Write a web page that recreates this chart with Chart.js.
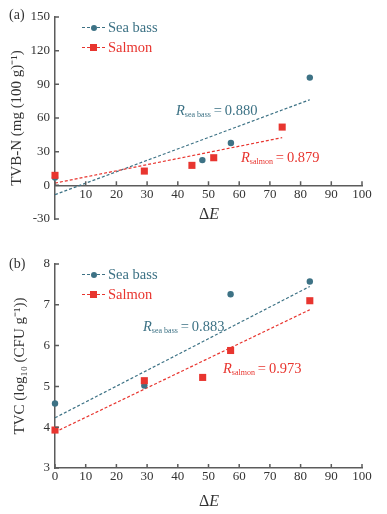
<!DOCTYPE html>
<html>
<head>
<meta charset="utf-8">
<script src="https://cdn.jsdelivr.net/npm/chart.js@4"></script>
<style>
  body { margin: 0; background: #fff; font-family: 'Liberation Serif', serif; }
  #wrap { position: relative; width: 387px; height: 514px; }
  canvas { position: absolute; left: 0; }
  .lbl { position: absolute; font-size: 14.5px; white-space: nowrap; line-height: 1; }
  .lbl sub { font-size: 8px; vertical-align: -2px; }
  .panel { position: absolute; font-size: 14px; color: #333; }
  .dx { position: absolute; font-size: 16px; color: #333; }
  .leg { position: absolute; left: 82px; height: 14px; font-size: 14.5px; }
  .leg .dash { position: absolute; left: 0; top: 7px; width: 23px; border-top: 1.3px dashed; }
  .leg .mk { position: absolute; left: 8px; top: 4px; width: 7px; height: 7px; }
  .leg .txt { position: absolute; left: 26px; top: -1px; white-space: nowrap; }
</style>
</head>
<body>
<div id="wrap">
  <canvas id="tvbn" width="387" height="250" style="top:0"></canvas>
  <canvas id="tvc" width="387" height="264" style="top:250px"></canvas>

  <div class="panel" style="left:9px;top:7px">(a)</div>
  <div class="panel" style="left:9px;top:256px">(b)</div>

  <div class="leg" style="top:20px;color:#3d7285">
    <span class="dash" style="border-color:#3d7285"></span>
    <span class="mk" style="background:#3d7285;border-radius:50%;left:8.5px;top:4.5px;width:6px;height:6px"></span>
    <span class="txt">Sea bass</span>
  </div>
  <div class="leg" style="top:40px;color:#e8352f">
    <span class="dash" style="border-color:#e8352f"></span>
    <span class="mk" style="background:#e8352f"></span>
    <span class="txt">Salmon</span>
  </div>
  <div class="leg" style="top:267px;color:#3d7285">
    <span class="dash" style="border-color:#3d7285"></span>
    <span class="mk" style="background:#3d7285;border-radius:50%;left:8.5px;top:4.5px;width:6px;height:6px"></span>
    <span class="txt">Sea bass</span>
  </div>
  <div class="leg" style="top:287px;color:#e8352f">
    <span class="dash" style="border-color:#e8352f"></span>
    <span class="mk" style="background:#e8352f"></span>
    <span class="txt">Salmon</span>
  </div>

  <div class="lbl" style="left:176px;top:103px;color:#3d7285"><i>R</i><sub>sea bass</sub>&#8201;=&#8201;0.880</div>
  <div class="lbl" style="left:241px;top:150px;color:#e8352f"><i>R</i><sub>salmon</sub>&#8201;=&#8201;0.879</div>
  <div class="lbl" style="left:143px;top:319px;color:#3d7285"><i>R</i><sub>sea bass</sub>&#8201;=&#8201;0.883</div>
  <div class="lbl" style="left:223px;top:361px;color:#e8352f"><i>R</i><sub>salmon</sub>&#8201;=&#8201;0.973</div>

  <div class="dx" style="left:199px;top:205px">Δ<i>E</i></div>
  <div class="dx" style="left:199px;top:492px">Δ<i>E</i></div>
</div>

<script>
// (a) TVB-N vs ΔE
const seaBassTvbnX = [0, 48, 57.3, 83];
const seaBassTvbnY = [7, 22.5, 37.7, 96];
const salmonTvbnX = [0, 29.1, 44.6, 51.7, 74];
const salmonTvbnY = [8.9, 12.7, 17.8, 24.6, 51.9];
const seaBassTvbnFitX = [0, 83];
const seaBassTvbnFitY = [-8.3, 76.3];
const salmonTvbnFitX = [0, 74];
const salmonTvbnFitY = [2, 42.5];
const tvbnTicks = [-30, 0, 30, 60, 90, 120, 150];

// (b) TVC vs ΔE
const seaBassTvcX = [0, 29.1, 57.2, 83];
const seaBassTvcY = [4.58, 5.02, 7.26, 7.57];
const salmonTvcX = [0, 29.1, 48.1, 57.2, 83];
const salmonTvcY = [3.93, 5.14, 5.22, 5.88, 7.10];
const seaBassTvcFitX = [0, 83];
const seaBassTvcFitY = [4.23, 7.45];
const salmonTvcFitX = [0, 83];
const salmonTvcFitY = [3.88, 6.88];
const tvcTicks = [3, 4, 5, 6, 7, 8];

const deltaETicks = [0, 10, 20, 30, 40, 50, 60, 70, 80, 90, 100];

const teal = '#3d7285';
const red = '#e8352f';
const axisColor = '#5c5c5c';
const serif = "'Liberation Serif', serif";

function pts(xs, ys) {
    return xs.map((x, i) => ({ x: x, y: ys[i] }));
}

// tick marks pointing into the plot
const innerTicks = {
    id: 'innerTicks',
    afterDraw(chart, args, opts) {
        const ctx = chart.ctx;
        const xs = chart.scales.x, ys = chart.scales.y;
        const left = chart.chartArea.left;
        const base = opts.atZero ? ys.getPixelForValue(0) : chart.chartArea.bottom;
        ctx.save();
        ctx.strokeStyle = axisColor;
        ctx.lineWidth = 1.5;
        ctx.beginPath();
        ys.ticks.forEach(t => {
            const py = ys.getPixelForValue(t.value);
            ctx.moveTo(left, py);
            ctx.lineTo(left + 4, py);
        });
        xs.ticks.forEach(t => {
            const px = xs.getPixelForValue(t.value);
            ctx.moveTo(px, base);
            ctx.lineTo(px, base - 4);
        });
        ctx.stroke();
        ctx.restore();
    }
};

function makeChart(id, d, yTicks, yTitle, titlePad, pad, atZero) {
    const ctx = document.getElementById(id).getContext('2d');
    return new Chart(ctx, {
        type: 'scatter',
        data: {
            datasets: [
                { data: pts(d.salX, d.salY), pointStyle: 'rect', pointRadius: 5, backgroundColor: red, borderColor: red, borderWidth: 0, order: 0, clip: false },
                { data: pts(d.sbX, d.sbY), pointStyle: 'circle', pointRadius: 3.2, backgroundColor: teal, borderColor: teal, borderWidth: 0, order: 1, clip: false },
                { type: 'line', data: pts(d.salFitX, d.salFitY), borderColor: red, borderWidth: 1.2, borderDash: [3, 2], pointRadius: 0, fill: false, order: 2, clip: false },
                { type: 'line', data: pts(d.sbFitX, d.sbFitY), borderColor: teal, borderWidth: 1.2, borderDash: [3, 2], pointRadius: 0, fill: false, order: 3, clip: false }
            ]
        },
        options: {
            responsive: false,
            animation: false,
            devicePixelRatio: 1,
            layout: { padding: pad },
            plugins: {
                legend: { display: false },
                tooltip: { enabled: false },
                innerTicks: { atZero: atZero }
            },
            scales: {
                x: {
                    type: 'linear',
                    position: atZero ? { y: 0 } : 'bottom',
                    min: 0,
                    max: 100,
                    afterBuildTicks: s => { s.ticks = deltaETicks.map(v => ({ value: v })); },
                    afterFit: s => { s.height = atZero ? 0 : 20; },
                    grid: { display: false, drawTicks: false },
                    border: { display: true, color: axisColor, width: 1.5 },
                    ticks: {
                        color: '#333', font: { family: serif, size: 13 }, padding: 1, maxRotation: 0,
                        // panel (a) has no 0 label on the ΔE axis
                        callback: v => (atZero && v === 0) ? '' : String(v)
                    }
                },
                y: {
                    type: 'linear',
                    position: 'left',
                    min: yTicks[0],
                    max: yTicks[yTicks.length - 1],
                    afterBuildTicks: s => { s.ticks = yTicks.map(v => ({ value: v })); },
                    afterFit: s => { s.width = 55; },
                    grid: { display: false, drawTicks: false },
                    border: { display: true, color: axisColor, width: 1.5 },
                    ticks: { color: '#333', font: { family: serif, size: 13 }, padding: 5 },
                    title: { display: true, text: yTitle, color: '#333', font: { family: serif, size: 15 }, padding: { top: titlePad, bottom: 0 } }
                }
            }
        },
        plugins: [innerTicks]
    });
}

makeChart('tvbn', {
    sbX: seaBassTvbnX, sbY: seaBassTvbnY, salX: salmonTvbnX, salY: salmonTvbnY,
    sbFitX: seaBassTvbnFitX, sbFitY: seaBassTvbnFitY, salFitX: salmonTvbnFitX, salFitY: salmonTvbnFitY
}, tvbnTicks, 'TVB-N (mg (100 g)⁻¹)', 8, { left: 0, right: 25, top: 17, bottom: 31 }, true);

makeChart('tvc', {
    sbX: seaBassTvcX, sbY: seaBassTvcY, salX: salmonTvcX, salY: salmonTvcY,
    sbFitX: seaBassTvcFitX, sbFitY: seaBassTvcFitY, salFitX: salmonTvcFitX, salFitY: salmonTvcFitY
}, tvcTicks, 'TVC (log₁₀ (CFU g⁻¹))', 11, { left: 0, right: 25, top: 14, bottom: 26 }, false);
</script>
</body>
</html>
